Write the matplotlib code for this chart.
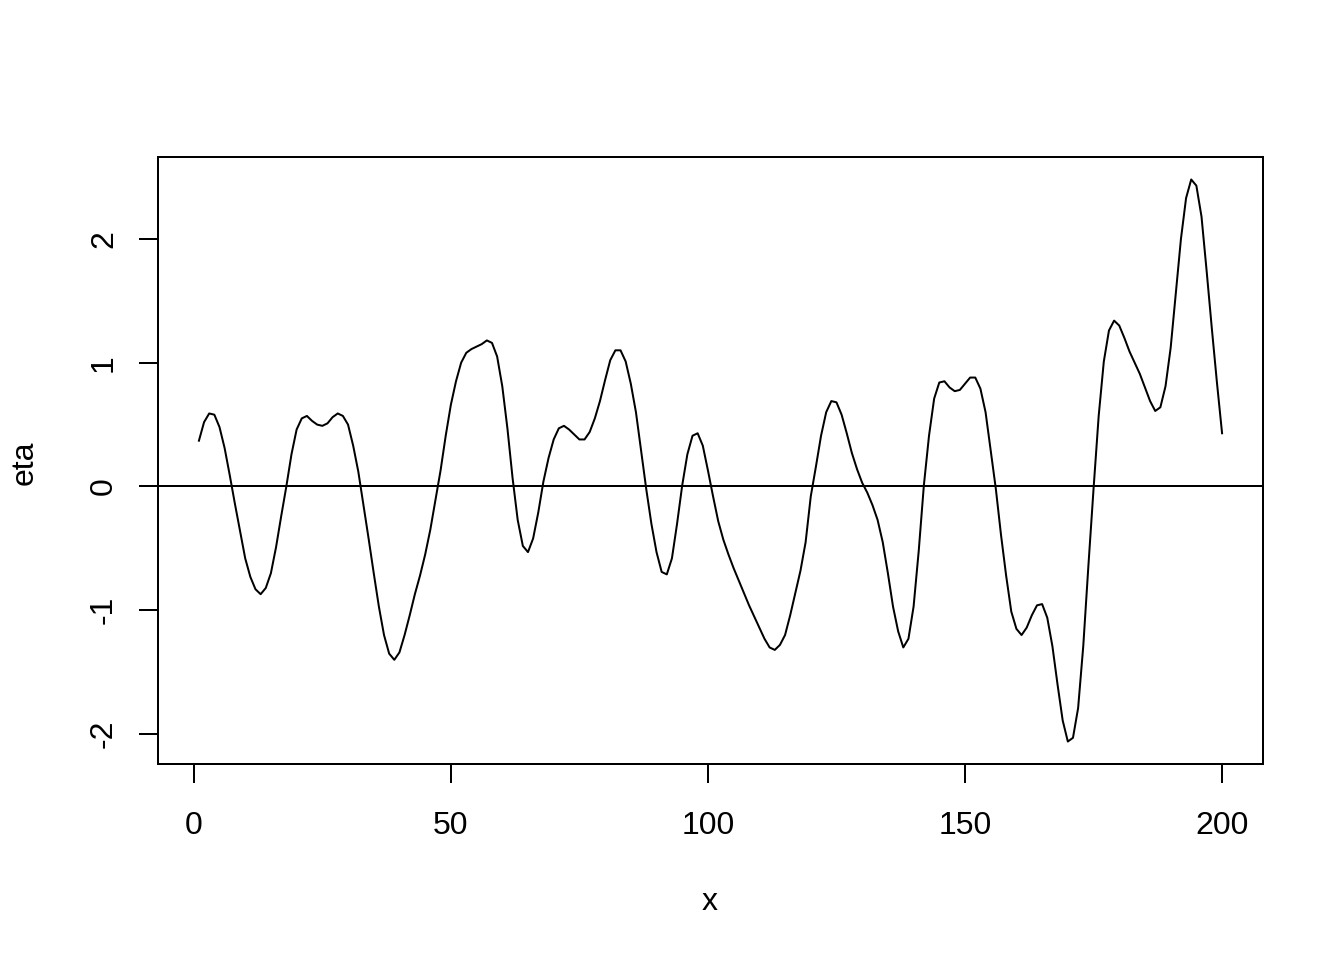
import numpy as np
import matplotlib
matplotlib.use("Agg")
import matplotlib.pyplot as plt

# eta values, x = 1..200
x = np.arange(1, 201)
eta = [
    0.37, 0.52, 0.59, 0.58, 0.48, 0.31, 0.09, -0.14, -0.36, -0.58,
    -0.73, -0.83, -0.87, -0.82, -0.70, -0.49, -0.24, 0.00, 0.26, 0.46,
    0.55, 0.57, 0.53, 0.50, 0.49, 0.51, 0.56, 0.59, 0.57, 0.50,
    0.33, 0.12, -0.15, -0.42, -0.70, -0.97, -1.20, -1.35, -1.40, -1.34,
    -1.20, -1.04, -0.87, -0.72, -0.55, -0.35, -0.11, 0.13, 0.41, 0.66,
    0.85, 1.00, 1.08, 1.11, 1.13, 1.15, 1.18, 1.16, 1.05, 0.81,
    0.47, 0.07, -0.27, -0.48, -0.53, -0.42, -0.21, 0.04, 0.23, 0.38,
    0.47, 0.49, 0.46, 0.42, 0.38, 0.38, 0.44, 0.55, 0.69, 0.86,
    1.02, 1.10, 1.10, 1.01, 0.83, 0.60, 0.29, -0.02, -0.30, -0.53,
    -0.69, -0.71, -0.58, -0.30, 0.01, 0.26, 0.41, 0.43, 0.33, 0.13,
    -0.08, -0.28, -0.43, -0.55, -0.66, -0.76, -0.86, -0.96, -1.05, -1.14,
    -1.23, -1.30, -1.32, -1.28, -1.20, -1.04, -0.86, -0.68, -0.45, -0.08,
    0.16, 0.41, 0.60, 0.69, 0.68, 0.58, 0.43, 0.27, 0.14, 0.03,
    -0.05, -0.15, -0.27, -0.45, -0.70, -0.97, -1.17, -1.30, -1.23, -0.97,
    -0.52, 0.01, 0.41, 0.71, 0.84, 0.85, 0.80, 0.77, 0.78, 0.83,
    0.88, 0.88, 0.79, 0.60, 0.29, -0.02, -0.39, -0.72, -1.01, -1.15,
    -1.20, -1.14, -1.04, -0.96, -0.95, -1.06, -1.29, -1.60, -1.89, -2.06,
    -2.03, -1.79, -1.29, -0.64, -0.02, 0.57, 1.01, 1.26, 1.34, 1.30,
    1.20, 1.09, 1.00, 0.91, 0.80, 0.69, 0.61, 0.64, 0.81, 1.12,
    1.56, 2.00, 2.33, 2.48, 2.43, 2.18, 1.74, 1.28, 0.84, 0.43,
]
xticks = [0, 50, 100, 150, 200]
yticks = [-2, -1, 0, 1, 2]

plt.rcParams['font.family'] = ['Liberation Sans', 'DejaVu Sans']
plt.rcParams['axes.unicode_minus'] = False

fig = plt.figure(figsize=(13.44, 9.6), dpi=100)
ax = fig.add_axes([158 / 1344, 1 - 764 / 960, 1105 / 1344, 607 / 960])

lw = 1.44
fs = 23
ax.plot(x, eta, color='black', lw=lw)
ax.axhline(0, color='black', lw=lw)

# R style 4% padding
xr = x.max() - x.min()
ax.set_xlim(x.min() - 0.04 * xr, x.max() + 0.04 * xr)
yr = max(eta) - min(eta)
ax.set_ylim(min(eta) - 0.04 * yr, max(eta) + 0.04 * yr)

ax.set_xticks(xticks)
ax.set_yticks(yticks)
ax.set_yticklabels([str(v) for v in yticks], rotation=90, va='center')
ax.tick_params(direction='out', length=14, width=lw, labelsize=fs)
ax.tick_params(axis='x', pad=20)
ax.tick_params(axis='y', pad=14)
for s in ax.spines.values():
    s.set_linewidth(lw)

fig.text(710 / 1344, 1 - 902 / 960, 'x', fontsize=fs, ha='center', va='center')
fig.text(25 / 1344, 1 - 463 / 960, 'eta', fontsize=fs, ha='center', va='center', rotation=90)

fig.savefig('out.png', dpi=100)
